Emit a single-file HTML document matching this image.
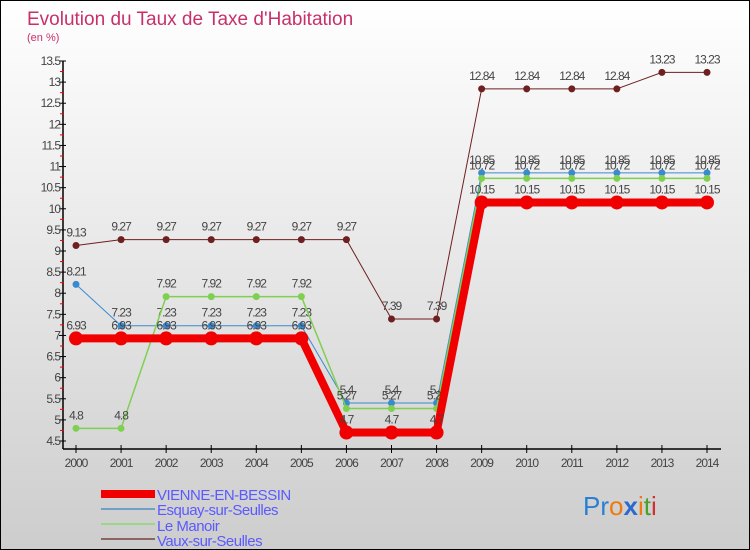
<!DOCTYPE html>
<html><head><meta charset="utf-8"><style>
body{margin:0}
#c{width:750px;height:550px;position:relative;overflow:hidden;background:linear-gradient(#ffffff,#cdcdcd);font-family:"Liberation Sans",sans-serif;box-sizing:border-box;border:1px solid #000}
</style></head><body>
<div id="c">
<svg id="s" width="750" height="550" style="position:absolute;left:0;top:0">
<text x="26" y="24" font-size="19" fill="#c8306a">Evolution du Taux de Taxe d'Habitation</text>
<text x="26" y="40" font-size="11" fill="#c8306a">(en %)</text>
<g id="ax"></g><g id="ser"></g>
<g>
<rect x="100" y="489" width="54" height="8" fill="#f00000"/>
<text x="156" y="499" font-size="15" fill="#5a5aff" letter-spacing="-0.5">VIENNE-EN-BESSIN</text>
<line x1="100" x2="154" y1="508" y2="508" stroke="#6fa0c8" stroke-width="2"/>
<text x="156" y="514" font-size="15" fill="#5a5aff" letter-spacing="-0.5">Esquay-sur-Seulles</text>
<line x1="100" x2="154" y1="523" y2="523" stroke="#9cd68a" stroke-width="2"/>
<text x="156" y="530" font-size="15" fill="#5a5aff" letter-spacing="-0.5">Le Manoir</text>
<line x1="100" x2="154" y1="538" y2="538" stroke="#8c6464" stroke-width="2"/>
<text x="156" y="545" font-size="15" fill="#5a5aff" letter-spacing="-0.5">Vaux-sur-Seulles</text>
</g>
<text x="582" y="514" font-size="26"><tspan fill="#2a7fd0">Pr</tspan><tspan fill="#f07a10">o</tspan><tspan fill="#2a6ad0" font-weight="bold">x</tspan><tspan fill="#f07a10">i</tspan><tspan fill="#4aa02a">t</tspan><tspan fill="#d03030">i</tspan></text>
</svg>
</div>
<script>
const years=[2000,2001,2002,2003,2004,2005,2006,2007,2008,2009,2010,2011,2012,2013,2014];
const vienne=[6.93,6.93,6.93,6.93,6.93,6.93,4.7,4.7,4.7,10.15,10.15,10.15,10.15,10.15,10.15];
const esquay=[8.21,7.23,7.23,7.23,7.23,7.23,5.4,5.4,5.4,10.85,10.85,10.85,10.85,10.85,10.85];
const manoir=[4.8,4.8,7.92,7.92,7.92,7.92,5.27,5.27,5.27,10.72,10.72,10.72,10.72,10.72,10.72];
const vaux=[9.13,9.27,9.27,9.27,9.27,9.27,9.27,7.39,7.39,12.84,12.84,12.84,12.84,13.23,13.23];
const yTicks=[4.5,5,5.5,6,6.5,7,7.5,8,8.5,9,9.5,10,10.5,11,11.5,12,12.5,13,13.5];
const NS="http://www.w3.org/2000/svg";
const X=i=>75+i*(706-75)/(years.length-1);
const Y=v=>440-(v-4.5)*(380/9);
function mk(t,a,p){const e=document.createElementNS(NS,t);for(const k in a)e.setAttribute(k,a[k]);p.appendChild(e);return e;}
const ax=document.getElementById('ax'),ser=document.getElementById('ser');
const yl=mk('line',{x1:62,x2:62,y1:Y(13.5),y2:448,stroke:'#000','stroke-width':1.5},ax);


const xl=mk('line',{x1:62,x2:720,y1:448,y2:448,stroke:'#000','stroke-width':1.5},ax);


yTicks.forEach((v,i)=>{const y=Y(v);mk('line',{x1:58,x2:65,y1:y,y2:y,stroke:'#000'},ax);
 if(i<yTicks.length-1){const y2=Y(v+0.25);mk('line',{x1:59,x2:63,y1:y2,y2:y2,stroke:'#e00'},ax);}
 const t=mk('text',{x:59,y:y+4,'font-size':12,fill:'#444','text-anchor':'end','letter-spacing':'-1'},ax);t.textContent=v;
 
 });
years.forEach((yr,i)=>{const x=X(i);mk('line',{x1:x,x2:x,y1:444,y2:452,stroke:'#000'},ax);
 const t=mk('text',{x:x,y:466,'font-size':12,fill:'#444','text-anchor':'middle','letter-spacing':'-1'},ax);t.textContent=yr;
 
 });
function series(d,col,w,r,name){
 const g=mk('g',{},ser);
 
 
 mk('polyline',{points:d.map((v,i)=>X(i)+','+Y(v)).join(' '),fill:'none',stroke:col,'stroke-width':w},g);
 d.forEach((v,i)=>{const c=mk('circle',{cx:X(i),cy:Y(v),r:r,fill:col},g);
  
  
  const t=mk('text',{x:X(i),y:Y(v)-9,'font-size':12,fill:'#444','text-anchor':'middle','letter-spacing':'-1'},g);t.textContent=v;});
}
series(vaux,'#6e1f1f',1,3.5,'series-vaux');
series(esquay,'#3a8ad0',1,3.5,'series-esquay');
series(manoir,'#7fd050',1.5,3.5,'series-manoir');
series(vienne,'#f00000',8,7,'series-vienne');
</script>
</body></html>
